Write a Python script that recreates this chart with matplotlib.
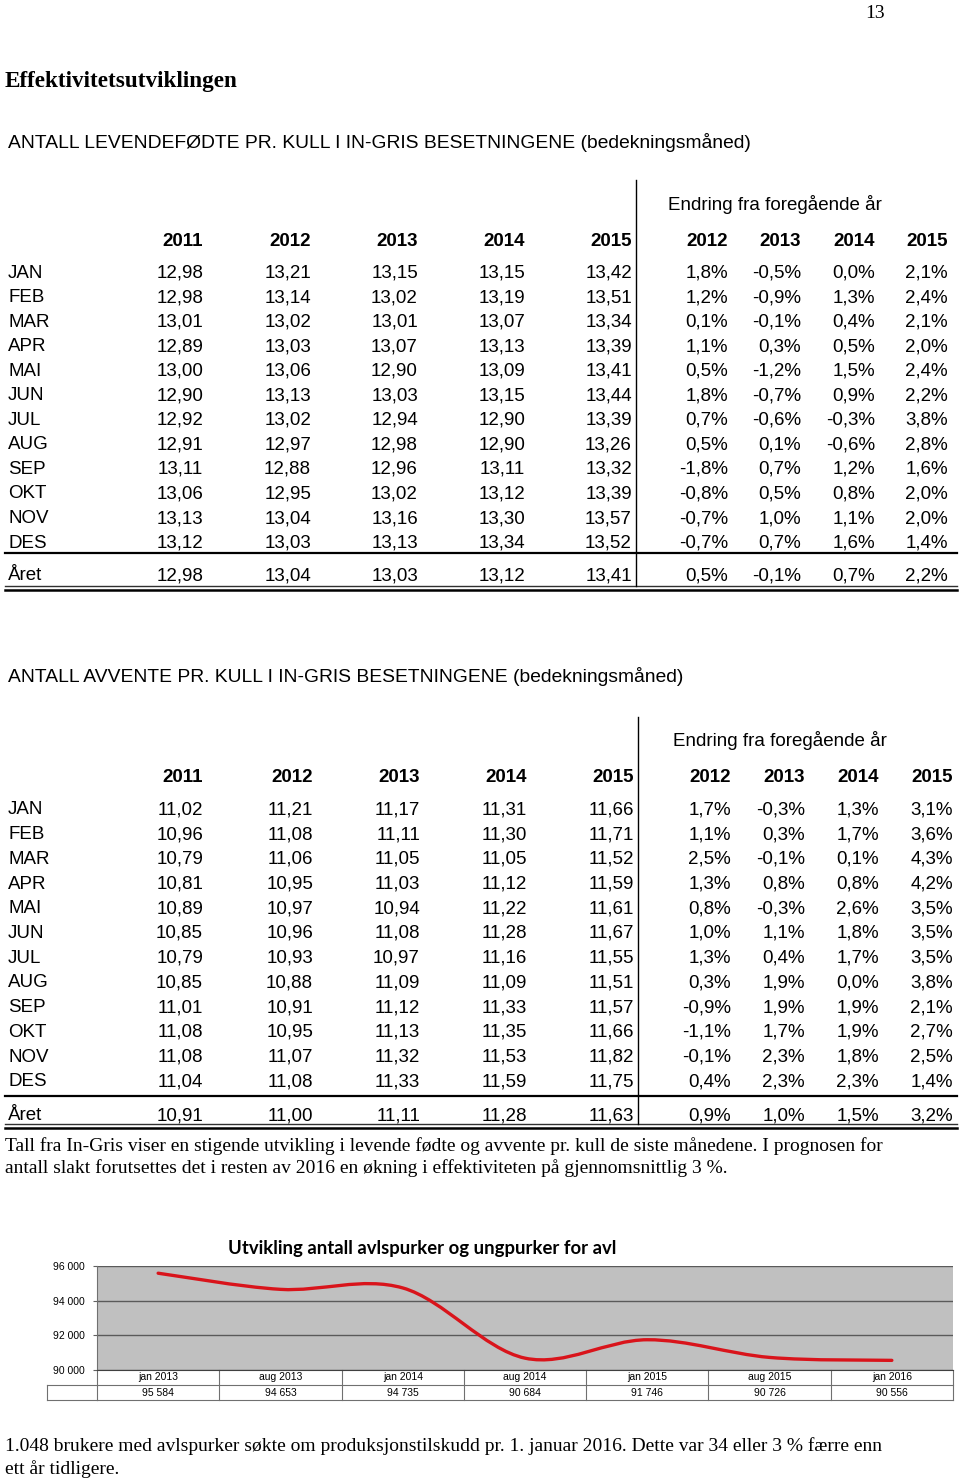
import matplotlib.pyplot as plt
from matplotlib.path import Path
from matplotlib.patches import PathPatch

# Table data
months = ['JAN', 'FEB', 'MAR', 'APR', 'MAI', 'JUN', 'JUL', 'AUG', 'SEP', 'OKT', 'NOV', 'DES', 'Året']
years = ['2011', '2012', '2013', '2014', '2015']
chg_years = ['2012', '2013', '2014', '2015']

levende = [
    [12.98, 13.21, 13.15, 13.15, 13.42],
    [12.98, 13.14, 13.02, 13.19, 13.51],
    [13.01, 13.02, 13.01, 13.07, 13.34],
    [12.89, 13.03, 13.07, 13.13, 13.39],
    [13.00, 13.06, 12.90, 13.09, 13.41],
    [12.90, 13.13, 13.03, 13.15, 13.44],
    [12.92, 13.02, 12.94, 12.90, 13.39],
    [12.91, 12.97, 12.98, 12.90, 13.26],
    [13.11, 12.88, 12.96, 13.11, 13.32],
    [13.06, 12.95, 13.02, 13.12, 13.39],
    [13.13, 13.04, 13.16, 13.30, 13.57],
    [13.12, 13.03, 13.13, 13.34, 13.52],
    [12.98, 13.04, 13.03, 13.12, 13.41],
]
levende_chg = [
    [1.8, -0.5, 0.0, 2.1],
    [1.2, -0.9, 1.3, 2.4],
    [0.1, -0.1, 0.4, 2.1],
    [1.1, 0.3, 0.5, 2.0],
    [0.5, -1.2, 1.5, 2.4],
    [1.8, -0.7, 0.9, 2.2],
    [0.7, -0.6, -0.3, 3.8],
    [0.5, 0.1, -0.6, 2.8],
    [-1.8, 0.7, 1.2, 1.6],
    [-0.8, 0.5, 0.8, 2.0],
    [-0.7, 1.0, 1.1, 2.0],
    [-0.7, 0.7, 1.6, 1.4],
    [0.5, -0.1, 0.7, 2.2],
]
avvente = [
    [11.02, 11.21, 11.17, 11.31, 11.66],
    [10.96, 11.08, 11.11, 11.30, 11.71],
    [10.79, 11.06, 11.05, 11.05, 11.52],
    [10.81, 10.95, 11.03, 11.12, 11.59],
    [10.89, 10.97, 10.94, 11.22, 11.61],
    [10.85, 10.96, 11.08, 11.28, 11.67],
    [10.79, 10.93, 10.97, 11.16, 11.55],
    [10.85, 10.88, 11.09, 11.09, 11.51],
    [11.01, 10.91, 11.12, 11.33, 11.57],
    [11.08, 10.95, 11.13, 11.35, 11.66],
    [11.08, 11.07, 11.32, 11.53, 11.82],
    [11.04, 11.08, 11.33, 11.59, 11.75],
    [10.91, 11.00, 11.11, 11.28, 11.63],
]
avvente_chg = [
    [1.7, -0.3, 1.3, 3.1],
    [1.1, 0.3, 1.7, 3.6],
    [2.5, -0.1, 0.1, 4.3],
    [1.3, 0.8, 0.8, 4.2],
    [0.8, -0.3, 2.6, 3.5],
    [1.0, 1.1, 1.8, 3.5],
    [1.3, 0.4, 1.7, 3.5],
    [0.3, 1.9, 0.0, 3.8],
    [-0.9, 1.9, 1.9, 2.1],
    [-1.1, 1.7, 1.9, 2.7],
    [-0.1, 2.3, 1.8, 2.5],
    [0.4, 2.3, 2.3, 1.4],
    [0.9, 1.0, 1.5, 3.2],
]

# Chart data
periods = ['jan 2013', 'aug 2013', 'jan 2014', 'aug 2014', 'jan 2015', 'aug 2015', 'jan 2016']
sows = [95584, 94653, 94735, 90684, 91746, 90726, 90556]

SANS = 'Liberation Sans'
SERIF = 'Liberation Serif'


def fmt_num(v):
    return f'{v:.2f}'.replace('.', ',')


def fmt_pct(v):
    return f'{v:.1f}%'.replace('.', ',')


def fmt_int(v):
    return f'{v:,}'.replace(',', ' ')


fig = plt.figure(figsize=(9.6, 14.79), dpi=100)
page = fig.add_axes([0, 0, 1, 1])
page.set_xlim(0, 960)
page.set_ylim(1479, 0)
page.axis('off')

page.text(875, 13, '13', family=SERIF, fontsize=14, ha='center', va='center')
page.text(5, 81, 'Effektivitetsutviklingen', family=SERIF, fontsize=16.7, weight='bold', va='center')


def draw_table(title, y_title, y_endring, y_head, y_rows, y_aret, line1, line2, vtop, vx,
               num_right, pct_right, endring_x, values, changes):
    fs = 13.5
    dy = 2
    page.text(8, y_title + dy, title, family=SANS, fontsize=13.9, va='center')
    page.text(endring_x, y_endring + dy, 'Endring fra foregående år', family=SANS, fontsize=13.5,
              ha='center', va='center')
    for x, yr in zip(num_right, years):
        page.text(x, y_head + dy, yr, family=SANS, fontsize=fs, weight='bold', ha='right', va='center')
    for x, yr in zip(pct_right, chg_years):
        page.text(x, y_head + dy, yr, family=SANS, fontsize=fs, weight='bold', ha='right', va='center')
    ys = list(y_rows) + [y_aret]
    for y, m, vals, chg in zip(ys, months, values, changes):
        page.text(8, y + dy, m, family=SANS, fontsize=fs, va='center')
        for x, v in zip(num_right, vals):
            page.text(x, y + dy, fmt_num(v), family=SANS, fontsize=fs, ha='right', va='center')
        for x, v in zip(pct_right, chg):
            page.text(x, y + dy, fmt_pct(v), family=SANS, fontsize=fs, ha='right', va='center')
    # single rule under DES, double rule under Året
    page.plot([5, 957], [line1, line1], color='black', lw=1.6)
    page.plot([5, 957], [line2 - 2, line2 - 2], color='#303030', lw=1.0)
    page.plot([5, 957], [line2 + 1.5, line2 + 1.5], color='black', lw=1.8)
    page.plot([vx, vx], [vtop, line2 - 2], color='black', lw=1.0)


rows1 = [271 + i * 24.55 for i in range(12)]
draw_table('ANTALL LEVENDEFØDTE PR. KULL I IN-GRIS BESETNINGENE (bedekningsmåned)',
           141, 202, 239, rows1, 574, 553, 588, 180, 636,
           [203, 311, 418, 525, 632], [728, 801, 875, 948], 775, levende, levende_chg)

rows2 = [808 + i * 24.7 for i in range(12)]
draw_table('ANTALL AVVENTE PR. KULL I IN-GRIS BESETNINGENE (bedekningsmåned)',
           674, 739, 775, rows2, 1114, 1096, 1126, 717, 638,
           [203, 313, 420, 527, 634], [731, 805, 879, 953], 780, avvente, avvente_chg)

page.text(5, 1146, 'Tall fra In-Gris viser en stigende utvikling i levende fødte og avvente pr. kull de siste månedene. I prognosen for',
          family=SERIF, fontsize=14, va='center')
page.text(5, 1168, 'antall slakt forutsettes det i resten av 2016 en økning i effektiviteten på gjennomsnittlig 3 %.',
          family=SERIF, fontsize=14, va='center')

# Chart
ax = fig.add_axes([97 / 960, 1 - 1370 / 1479, (953 - 97) / 960, (1370 - 1266) / 1479])
ax.set_facecolor('#c0c0c0')
ax.set_xlim(0, len(periods))
ax.set_ylim(90000, 96000)
ax.set_yticks([90000, 92000, 94000, 96000])
ax.set_yticklabels([fmt_int(v) for v in [90000, 92000, 94000, 96000]], family=SANS, fontsize=7.5)
ax.tick_params(axis='y', length=3, width=0.8, color='#606060', pad=6)
ax.set_xticks([])
ax.grid(axis='y', color='#5a5a5a', lw=1.0)
ax.set_axisbelow(True)
for s in ['top', 'right']:
    ax.spines[s].set_visible(False)
ax.spines['left'].set_color('#707070')
ax.spines['bottom'].set_color('#404040')

# smooth line through the data points (Bezier segments)
xs = [i + 0.5 for i in range(len(sows))]
pts = list(zip(xs, sows))
verts = [pts[0]]
codes = [Path.MOVETO]
n = len(pts)
for i in range(n - 1):
    p0 = pts[max(i - 1, 0)]
    p1 = pts[i]
    p2 = pts[i + 1]
    p3 = pts[min(i + 2, n - 1)]
    c1 = (p1[0] + (p2[0] - p0[0]) / 6, p1[1] + (p2[1] - p0[1]) / 6)
    c2 = (p2[0] - (p3[0] - p1[0]) / 6, p2[1] - (p3[1] - p1[1]) / 6)
    verts += [c1, c2, p2]
    codes += [Path.CURVE4] * 3
ax.add_patch(PathPatch(Path(verts, codes), fill=False, edgecolor='#d9141b', lw=2.4,
                       capstyle='round'))

ax.set_title('Utvikling antall avlspurker og ungpurker for avl', family='Lato', weight='bold',
             fontsize=13.3, x=0.38, y=1.04)

# data table beneath the chart
tr = ax.get_xaxis_transform()
r1 = -15 / 104
r2 = -30 / 104
for i in range(len(periods) + 1):
    ax.plot([i, i], [0, r2], transform=tr, color='#707070', lw=0.8, clip_on=False)
ax.plot([0, len(periods)], [r1, r1], transform=tr, color='#707070', lw=0.8, clip_on=False)
ax.plot([0, len(periods)], [r2, r2], transform=tr, color='#707070', lw=0.8, clip_on=False)
for x, p, v in zip(xs, periods, sows):
    ax.text(x, r1 / 2, p, transform=tr, family=SANS, fontsize=7.5, ha='center', va='center')
    ax.text(x, (r1 + r2) / 2, fmt_int(v), transform=tr, family=SANS, fontsize=7.5,
            ha='center', va='center')
page.plot([47, 97], [1385, 1385], color='#707070', lw=0.8)
page.plot([47, 97], [1400, 1400], color='#707070', lw=0.8)
page.plot([47, 47], [1385, 1400], color='#707070', lw=0.8)

page.text(5, 1446, '1.048 brukere med avlspurker søkte om produksjonstilskudd pr. 1. januar 2016. Dette var 34 eller 3 % færre enn',
          family=SERIF, fontsize=14, va='center')
page.text(5, 1469, 'ett år tidligere.', family=SERIF, fontsize=14, va='center')

fig.savefig('out.png', dpi=100)
